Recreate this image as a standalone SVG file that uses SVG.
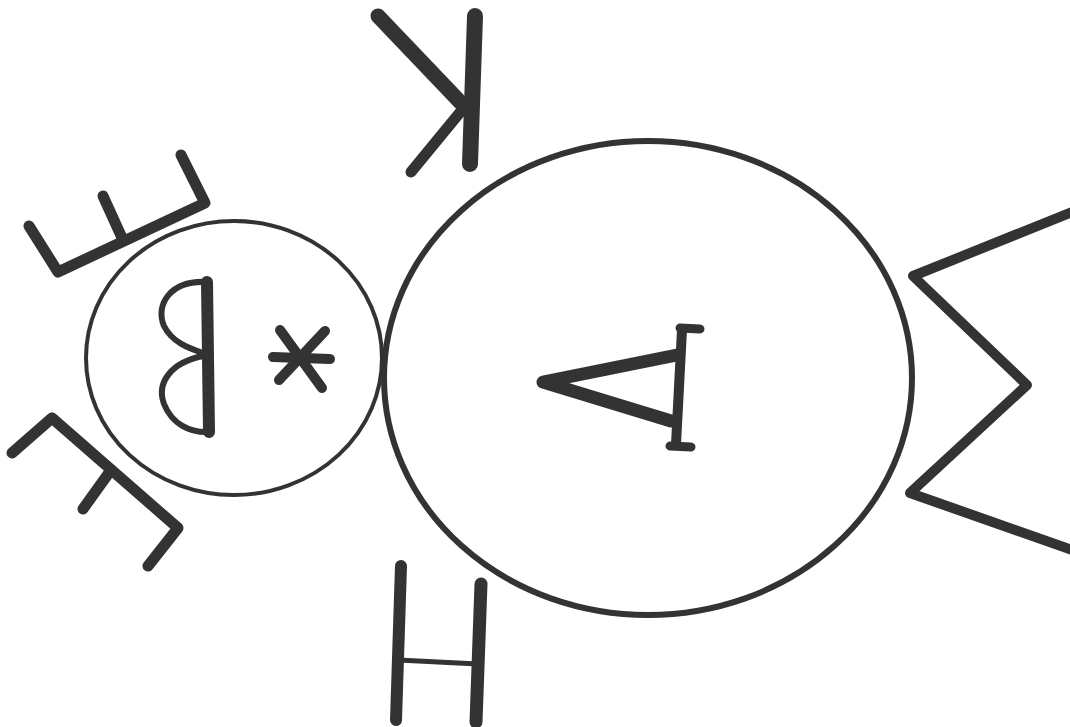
<svg xmlns="http://www.w3.org/2000/svg" width="1070" height="727" viewBox="0 0 1070 727">
<style>
.ln{fill:none;stroke:#333;stroke-linecap:round;stroke-linejoin:round}
</style>
<rect width="1070" height="727" fill="#fff"/>
<g id="head">
<ellipse class="ln" cx="234" cy="358" rx="148" ry="137" stroke-width="4"/>
</g>
<g id="body">
<ellipse class="ln" cx="648" cy="378" rx="264" ry="237" stroke-width="6"/>
</g>
<g id="letter-K">
<line class="ln" x1="475" y1="16" x2="470" y2="164" stroke-width="16" stroke-linecap="butt"/>
<line class="ln" x1="378" y1="16" x2="462" y2="104" stroke-width="15"/>
<line class="ln" x1="462" y1="110" x2="411" y2="172" stroke-width="11"/>
</g>
<g id="letter-E-top">
<polyline class="ln" points="29,226 58,272 205,203 181,155" stroke-width="11"/>
<line class="ln" x1="103" y1="196" x2="123" y2="240" stroke-width="11"/>
</g>
<g id="letter-E-bottom">
<polyline class="ln" points="12,453 52,418 178,528 148,566" stroke-width="11"/>
<line class="ln" x1="111" y1="470" x2="83" y2="509" stroke-width="11"/>
</g>
<g id="letter-B">
<line class="ln" x1="207" y1="282" x2="209" y2="432" stroke-width="12"/>
<path class="ln" d="M207,282 C170,280 155,305 164,326 C172,342 188,348 203,353" stroke-width="6"/>
<path class="ln" d="M203,356 C172,362 156,382 164,404 C172,424 190,433 209,432" stroke-width="6"/>
</g>
<g id="asterisk">
<line class="ln" x1="273" y1="357" x2="330" y2="359" stroke-width="10"/>
<line class="ln" x1="280" y1="330" x2="322" y2="388" stroke-width="10"/>
<line class="ln" x1="325" y1="331" x2="279" y2="380" stroke-width="10"/>
</g>
<g id="letter-A">
<polyline class="ln" points="677,355 543,382 671,421" stroke-width="13"/>
<line class="ln" x1="682" y1="330" x2="676" y2="444" stroke-width="10"/>
<line class="ln" x1="680" y1="328" x2="700" y2="329" stroke-width="9"/>
<line class="ln" x1="670" y1="446" x2="691" y2="447" stroke-width="9"/>
</g>
<g id="letter-Sigma">
<polyline class="ln" points="1072,212 913,276 1027,385 910,493 1072,550" stroke-width="10" stroke-linecap="butt"/>
</g>
<g id="letter-H">
<line class="ln" x1="401" y1="566" x2="396" y2="720" stroke-width="12"/>
<line class="ln" x1="481" y1="584" x2="476" y2="722" stroke-width="13"/>
<line class="ln" x1="398" y1="660" x2="478" y2="664" stroke-width="5"/>
</g>
</svg>
